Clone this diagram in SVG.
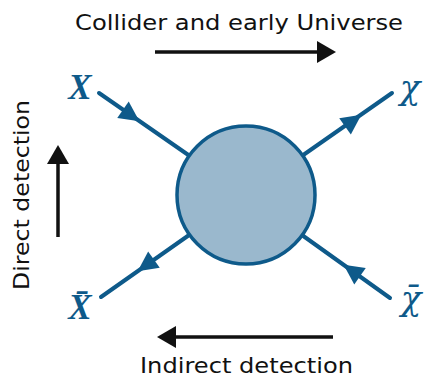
<svg xmlns="http://www.w3.org/2000/svg" xmlns:xlink="http://www.w3.org/1999/xlink" width="424" height="379" viewBox="0 0 424 379">
<style>
.hand{font-family:"DejaVu Sans","Liberation Sans",sans-serif;font-size:21px;fill:#111}
.lab{font-family:"Liberation Serif","DejaVu Serif",serif;font-style:italic;font-weight:bold;font-size:35px;fill:#0e5a8a}
.chi{font-family:"DejaVu Serif","Liberation Serif",serif;font-style:italic;font-size:34px;fill:#0e5a8a}
.prop{stroke:#0e5a8a;stroke-width:4;stroke-linecap:round;fill:none}
.blk{stroke:#111;stroke-width:3.5;fill:none}
.ah{fill:#0e5a8a}
.bh{fill:#111}
</style>
<defs>
<path id="ah" d="M9,0 L-11,-10 L-11,10 Z"/>
<path id="bh" d="M0,0 L-19,-11 L-19,11 Z"/>
</defs>
<g id="connectors">
<line class="prop" x1="99" y1="93" x2="246" y2="195"/>
<line class="prop" x1="392" y1="93" x2="246" y2="195"/>
<line class="prop" x1="101" y1="297" x2="246" y2="195"/>
<line class="prop" x1="390" y1="298" x2="246" y2="195"/>
<use xlink:href="#ah" class="ah" transform="translate(132,116) rotate(34.9)"/>
<use xlink:href="#ah" class="ah" transform="translate(354,120) rotate(-35.5)"/>
<use xlink:href="#ah" class="ah" transform="translate(145,266) rotate(144.5)"/>
<use xlink:href="#ah" class="ah" transform="translate(351,270) rotate(215)"/>
</g>
<g id="blob">
<circle cx="246" cy="195" r="69" fill="#9ab8cd" stroke="#0e5a8a" stroke-width="3.5"/>
</g>
<g id="label-X"><text class="lab" x="80" y="99" text-anchor="middle">X</text></g>
<g id="label-chi"><text class="chi" x="410" y="99" text-anchor="middle">χ</text></g>
<g id="label-Xbar"><text class="lab" x="80" y="319" text-anchor="middle">X̄</text></g>
<g id="label-chibar"><text class="chi" x="411" y="310" text-anchor="middle">χ̄</text></g>
<g id="arrow-collider">
<line class="blk" x1="155" y1="52" x2="320" y2="52"/>
<use xlink:href="#bh" class="bh" transform="translate(336,52)"/>
<text class="hand" x="75" y="30" textLength="328" lengthAdjust="spacingAndGlyphs">Collider and early Universe</text>
</g>
<g id="arrow-direct">
<line class="blk" x1="58" y1="237" x2="58" y2="160"/>
<use xlink:href="#bh" class="bh" transform="translate(58,145) rotate(-90)"/>
<text class="hand" transform="translate(29,195) rotate(-90)" x="0" y="0" text-anchor="middle" textLength="190" lengthAdjust="spacingAndGlyphs">Direct detection</text>
</g>
<g id="arrow-indirect">
<line class="blk" x1="333" y1="337" x2="172" y2="337"/>
<use xlink:href="#bh" class="bh" transform="translate(157,337) rotate(180)"/>
<text class="hand" x="140" y="373" textLength="213" lengthAdjust="spacingAndGlyphs">Indirect detection</text>
</g>
</svg>
